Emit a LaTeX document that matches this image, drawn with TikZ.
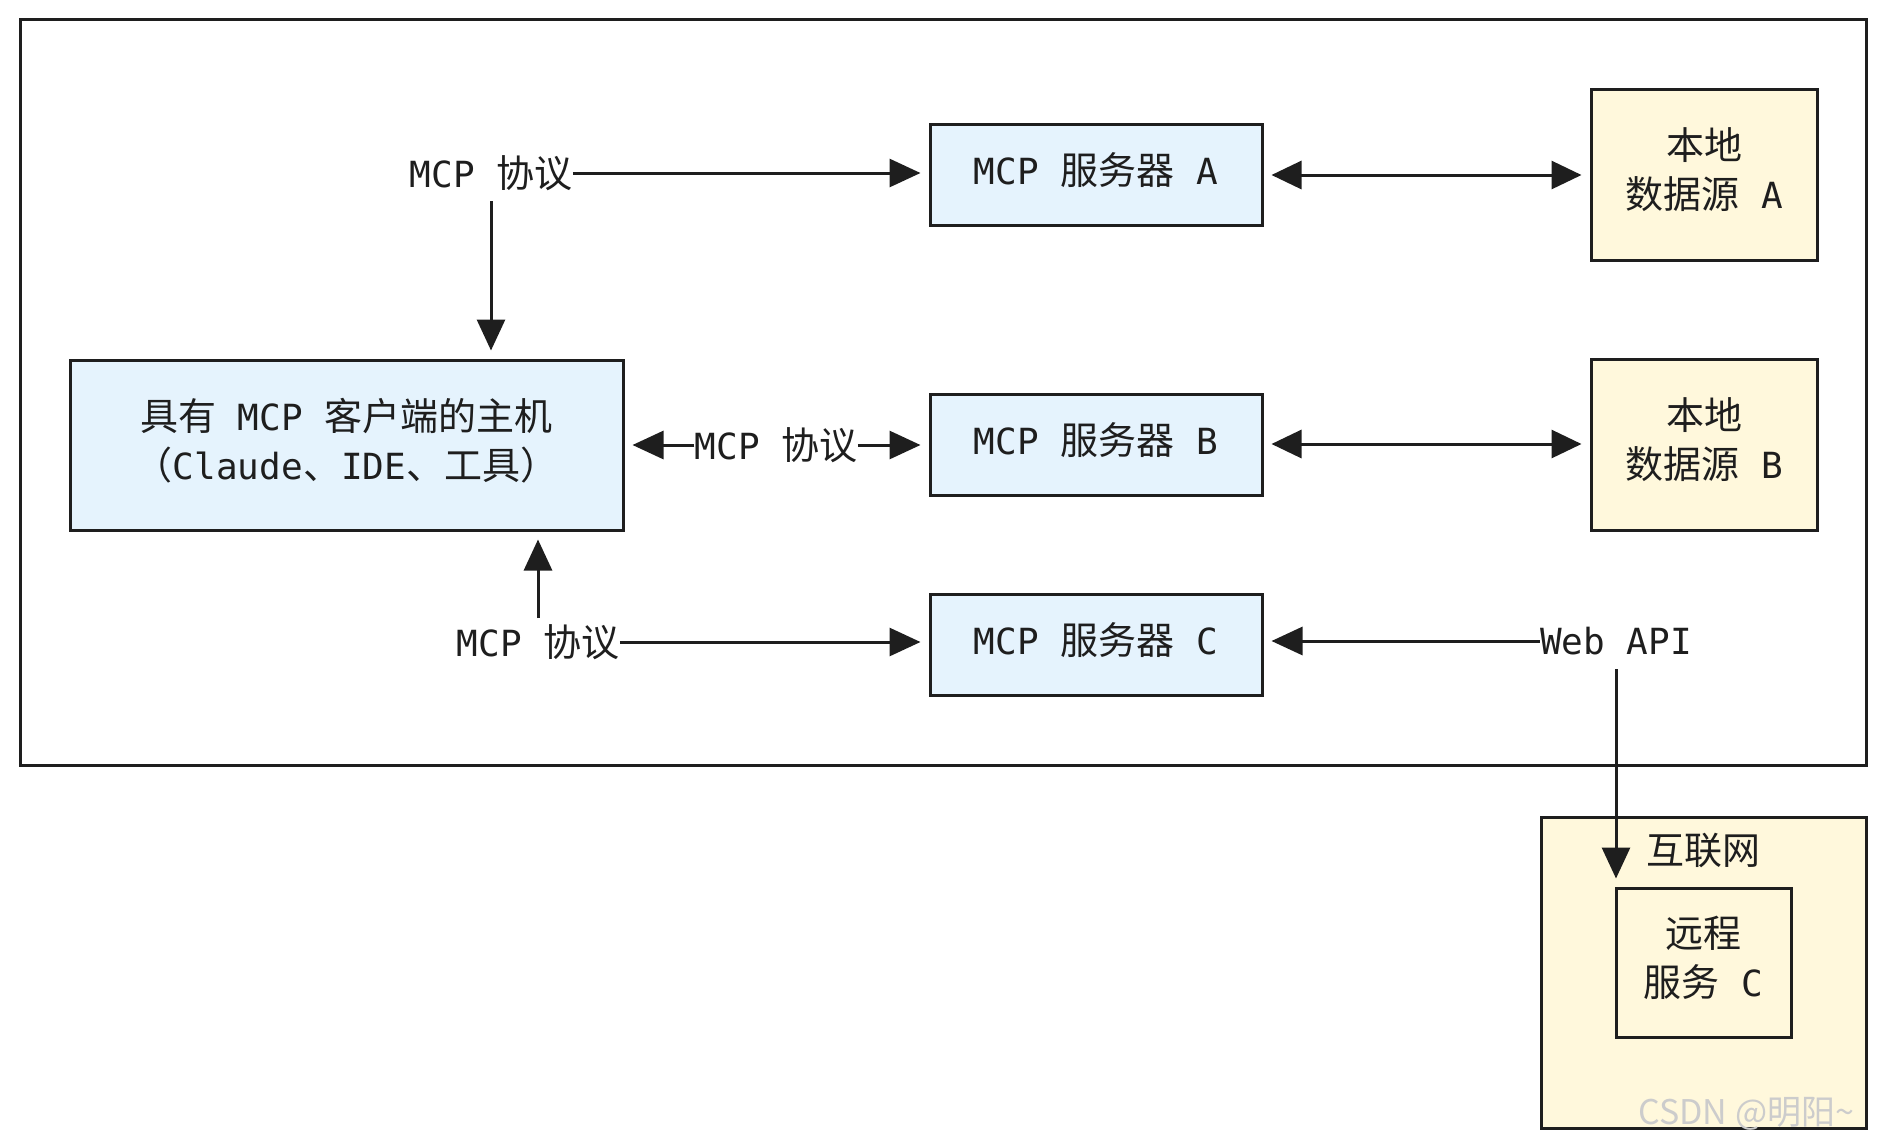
\documentclass[tikz,border=0pt]{standalone}
\usepackage{fontspec}
\setmainfont{DejaVu Sans Mono}
\newfontfamily\cjk{Noto Sans CJK SC}
\usetikzlibrary{arrows.meta,calc}
\newcommand\zh[1]{{\cjk\fontsize{19}{24.5}\selectfont #1}}
\newcommand\lowpad{\rule[-6pt]{0pt}{0pt}}
\definecolor{ink}{HTML}{1E1E1E}
\definecolor{boxblue}{HTML}{E5F3FD}
\definecolor{boxyel}{HTML}{FFF8DC}
\begin{document}
\begin{tikzpicture}[x=0.5pt,y=-0.5pt,
  box/.style={draw=ink, line width=1.5pt, inner sep=0pt, align=center, text=ink, font=\fontsize{18}{24.5}\selectfont},
  bluebox/.style={box, fill=boxblue},
  yelbox/.style={box, fill=boxyel},
  lbl/.style={inner sep=0pt, text=ink, font=\fontsize{18}{22}\selectfont},
  arr/.style={draw=ink, line width=1.5pt, -{Triangle[length=15.5pt,width=14pt]}, shorten >=4pt},
  darr/.style={draw=ink, line width=1.5pt, {Triangle[length=15pt,width=14pt]}-{Triangle[length=15pt,width=14pt]}, shorten >=4pt, shorten <=4pt},
]
\useasboundingbox (0,0) rectangle (1885,1147);
% outer frame
\node[draw=ink, line width=1.5pt, inner sep=0pt, minimum width=923pt, minimum height=373pt] (frame) at (943,392) {};
% boxes
\node[bluebox, minimum width=276.5pt, minimum height=85pt] (host) at (346.5,445) {\zh{具有} MCP \zh{客户端的主机}\\\zh{（}Claude\zh{、}IDE\zh{、工具）}\lowpad};
\node[bluebox, minimum width=166pt, minimum height=50.5pt] (srvA) at (1096,175) {MCP \zh{服务器} A\lowpad};
\node[bluebox, minimum width=166pt, minimum height=50.5pt] (srvB) at (1096,445) {MCP \zh{服务器} B\lowpad};
\node[bluebox, minimum width=166pt, minimum height=50.5pt] (srvC) at (1096,645) {MCP \zh{服务器} C\lowpad};
\node[yelbox, minimum width=113pt, minimum height=85.5pt] (dataA) at (1704,174.5) {\zh{本地}\\\zh{数据源} A\lowpad};
\node[yelbox, minimum width=113pt, minimum height=85.5pt] (dataB) at (1704,444.5) {\zh{本地}\\\zh{数据源} B\lowpad};
\node[yelbox, minimum width=162.5pt, minimum height=155.5pt] (inet) at (1703.5,972.5) {};
\node[lbl] (inetlbl) at (1703,850) {\zh{互联网}};
\node[yelbox, minimum width=87.5pt, minimum height=74.5pt] (remote) at (1703.5,962.5) {\zh{远程}\\\zh{服务} C\lowpad};
% labels
\node[lbl] (lblA) at (491,173) {MCP \zh{协议}};
\node[lbl] (lblB) at (776,445) {MCP \zh{协议}};
\node[lbl] (lblC) at (538,642) {MCP \zh{协议}};
\node[lbl] (web) at (1616,641) {Web API};
% connectors
\draw[arr] (lblA.east) -- (lblA.east -| srvA.west);
\draw[arr] ($(lblA.center)+(0,28)$) -- (lblA.center |- host.north);
\draw[arr] (lblB.west) -- (lblB.west -| host.east);
\draw[arr] (lblB.east) -- (lblB.east -| srvB.west);
\draw[arr] (lblC.east) -- (lblC.east -| srvC.west);
\draw[arr] ($(lblC.center)+(0,-24)$) -- (lblC.center |- host.south);
\draw[darr] (srvA.east) -- (srvA.east -| dataA.west);
\draw[darr] ($(srvB.east)+(0,-1)$) -- ($(srvB.east -| dataB.west)+(0,-1)$);
\draw[arr] (web.west) -- (web.west -| srvC.east);
\draw[arr] ($(web.center)+(0,28)$) -- (web.center |- remote.north);
% watermark
\node[anchor=west, inner sep=0pt, text=gray!40, font=\cjk\fontsize{17}{20}\selectfont] (wm) at (1638,1114) {CSDN @明阳\textasciitilde};
\end{tikzpicture}
\end{document}
